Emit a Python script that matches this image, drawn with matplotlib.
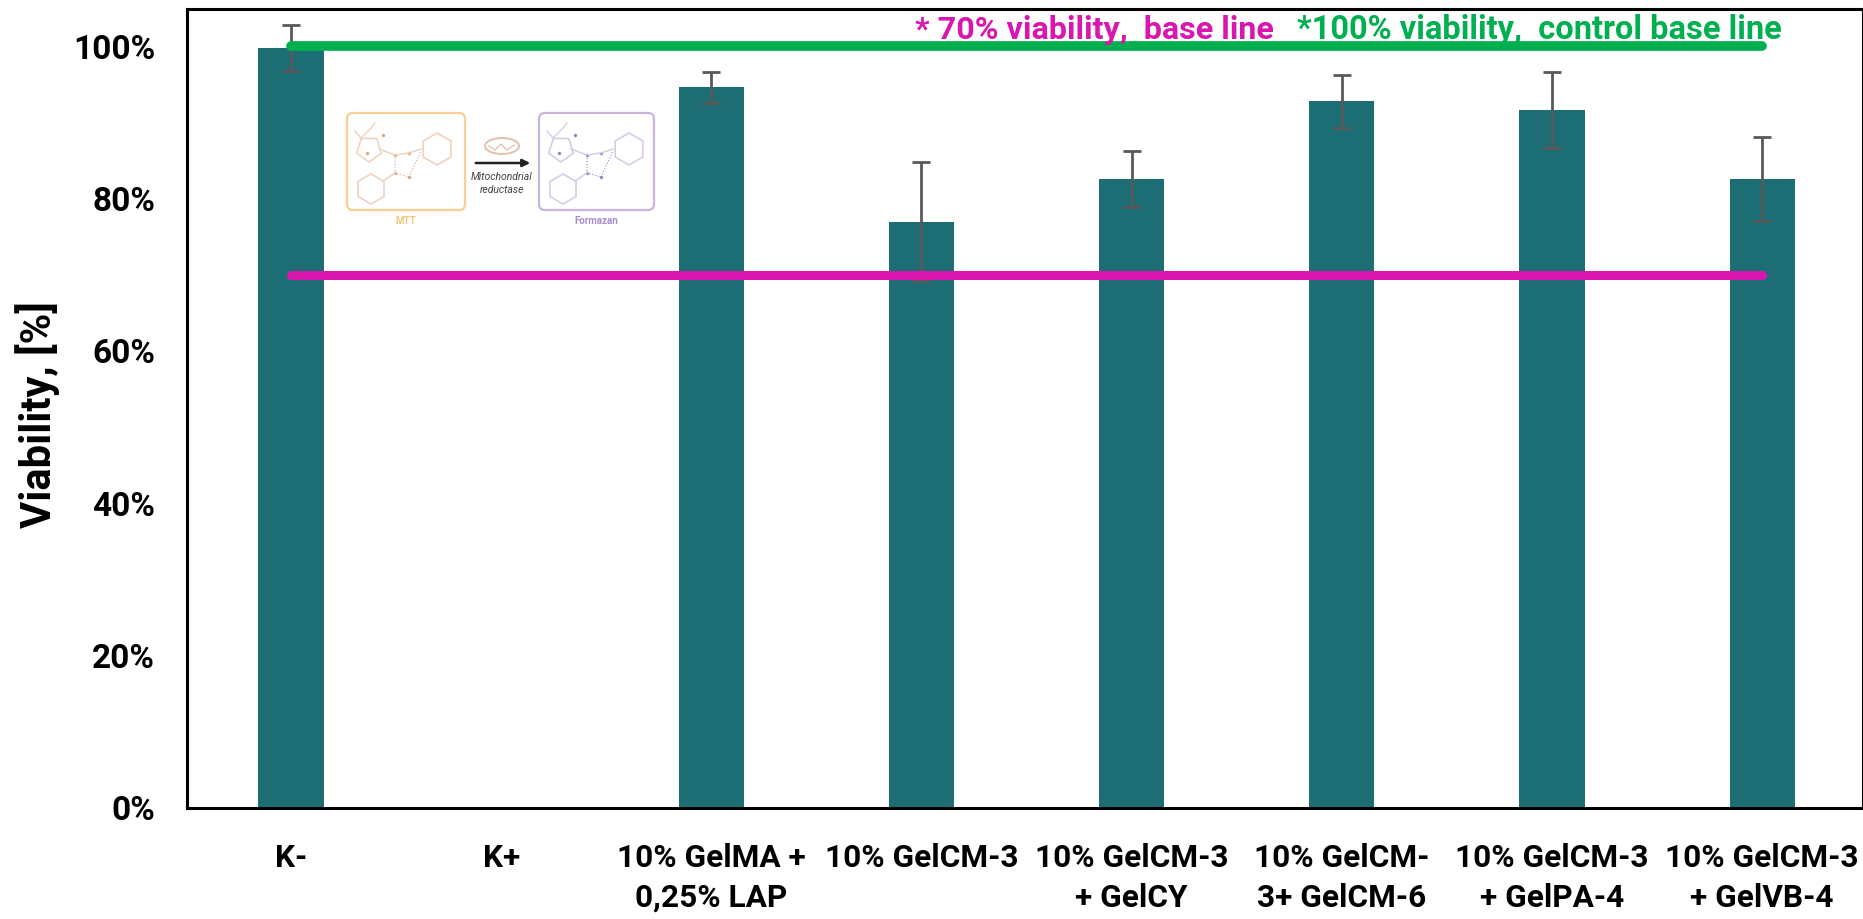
import numpy as np
import matplotlib

matplotlib.use("Agg")
import matplotlib.pyplot as plt
from matplotlib.patches import FancyBboxPatch, RegularPolygon, Ellipse
from matplotlib.transforms import Affine2D

plt.rcParams["font.family"] = ["Roboto", "DejaVu Sans"]
plt.rcParams["font.weight"] = "bold"

LABELS = [
    "K-",
    "K+",
    "10% GelMA +\n0,25% LAP",
    "10% GelCM-3",
    "10% GelCM-3\n+ GelCY",
    "10% GelCM-\n3+ GelCM-6",
    "10% GelCM-3\n+ GelPA-4",
    "10% GelCM-3\n+ GelVB-4",
]
VIABILITY = [99.8, 0, 94.6, 77, 82.6, 92.8, 91.6, 82.6]
ERRORS = [3, 0, 2, 7.8, 3.7, 3.5, 5, 5.5]
YTICKS = [0, 20, 40, 60, 80, 100]
CONTROL_LINE = [100] * len(LABELS)
BASE_LINE = [70] * len(LABELS)

W, H = 1863, 919
TEAL = "#1C6E74"
GREEN = "#00B050"
MAGENTA = "#D917AE"
ORANGE = "#F8CF94"
PURPLE = "#C9B5E0"


def molecule(ax, dx, line, dots):
    # little MTT / formazan sketch, offsets relative to the box corner
    trans = Affine2D().translate(dx, 113) + ax.transData
    shapes = [
        RegularPolygon((22, 36), 5, radius=13, fill=False, ec=line, lw=1.2),
        RegularPolygon((90, 36), 6, radius=16, fill=False, ec=line, lw=1.2),
        RegularPolygon((24, 76), 6, radius=15, fill=False, ec=line, lw=1.2),
    ]
    for p in shapes:
        p.set_transform(trans)
        ax.add_patch(p)
    ax.plot([32, 48, 62, 74], [36, 42, 40, 36], color=line, lw=1.1, transform=trans)
    ax.plot([48, 48, 62, 74], [42, 60, 64, 38], color=dots, lw=0.8, ls=":", transform=trans)
    ax.plot([36, 48], [68, 60], color=line, lw=1.1, transform=trans)
    ax.plot([8, 14, 24, 28], [18, 25, 15, 10], color=line, lw=1.0, transform=trans)
    ax.scatter([36, 48, 62, 48, 62, 20], [22, 42, 40, 60, 64, 40],
               s=6, color=dots, lw=0, transform=trans)


def draw_inset(ov):
    for x0, x1, col in [(347, 465, ORANGE), (539, 654, PURPLE)]:
        ov.add_patch(FancyBboxPatch((x0 + 5, 118), x1 - x0 - 10, 87,
                                    boxstyle="round,pad=5,rounding_size=6",
                                    fill=False, ec=col, lw=1.6))
    molecule(ov, 347, "#EFD3C0", "#E0A585")
    molecule(ov, 539, "#D8CCE8", "#9C83C8")
    ov.annotate("", xy=(533, 163), xytext=(473, 163),
                arrowprops=dict(arrowstyle="-|>", color="#222222", lw=1.8, mutation_scale=11))
    ov.add_patch(Ellipse((502, 146), 34, 16, fill=False, ec="#E3BFAF", lw=1.4))
    ov.plot([489, 495, 501, 507, 514], [146, 150, 144, 150, 145], color="#E3BFAF", lw=0.9)
    ov.text(502, 177, "Mitochondrial", style="italic", weight="normal", fontsize=7.5,
            color="#444444", ha="center", va="center")
    ov.text(502, 190, "reductase", style="italic", weight="normal", fontsize=7.5,
            color="#444444", ha="center", va="center")
    ov.text(406, 221, "MTT", fontsize=7, color="#F5C67E", ha="center", va="center")
    ov.text(596, 221, "Formazan", fontsize=7, color="#A98FD0", ha="center", va="center")


def main():
    fig = plt.figure(figsize=(W / 100, H / 100), dpi=100)
    ax = fig.add_axes([187 / W, 1 - 808 / H, (W - 187) / W, (808 - 9) / H])

    xs = np.arange(len(LABELS))
    heights = np.array(VIABILITY, dtype=float)
    shown = heights > 0
    ax.bar(xs[shown], heights[shown], width=0.31, color=TEAL, zorder=2)
    ax.errorbar(xs[shown], heights[shown], yerr=np.array(ERRORS)[shown], fmt="none",
                ecolor="#595959", elinewidth=2, capsize=6.8, capthick=2, zorder=3)
    ax.plot(xs, BASE_LINE, color=MAGENTA, lw=6.5, solid_capstyle="round", zorder=4)
    ax.plot(xs, CONTROL_LINE, color=GREEN, lw=7, solid_capstyle="round", zorder=4)

    ax.set_xlim(-0.495, len(LABELS) - 0.52)
    ax.set_ylim(0, 104.9)
    ax.set_yticks(YTICKS)
    ax.set_yticklabels([f"{t}%" for t in YTICKS], fontsize=24)
    ax.set_xticks(xs)
    ax.set_xticklabels(LABELS, fontsize=22.8, linespacing=1.42)
    ax.tick_params(axis="both", length=0)
    ax.tick_params(axis="x", pad=25)
    ax.tick_params(axis="y", pad=23)
    ax.set_ylabel("Viability, [%]", fontsize=30, fontweight="bold", va="center")
    ax.yaxis.set_label_coords(-0.089, 0.492)
    for side in ["left", "bottom", "top", "right"]:
        ax.spines[side].set_linewidth(2.2)

    ov = fig.add_axes([0, 0, 1, 1], facecolor="none")
    ov.set_xlim(0, W)
    ov.set_ylim(H, 0)
    ov.axis("off")
    ov.text(915, 30, "* 70% viability,  base line", color=MAGENTA, fontsize=23.2,
            ha="left", va="center")
    ov.text(1297, 30, "*100% viability,  control base line", color=GREEN, fontsize=23.5,
            ha="left", va="center")
    draw_inset(ov)

    fig.savefig("out.png", dpi=100, facecolor="white")


if __name__ == "__main__":
    main()
